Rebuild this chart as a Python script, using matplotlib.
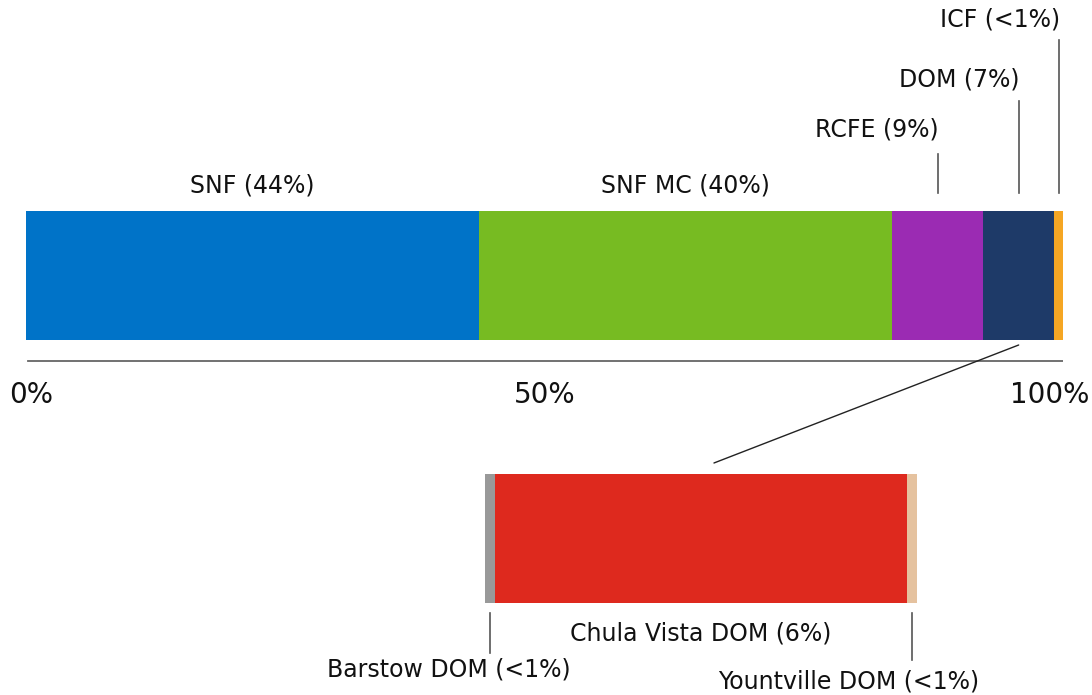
import matplotlib
matplotlib.use("Agg")
import matplotlib.pyplot as plt
from matplotlib.patches import ConnectionPatch

# Share of beds by facility type (percent)
categories = ["SNF", "SNF MC", "RCFE", "DOM", "ICF"]
shares = [43.7, 39.8, 8.8, 6.85, 0.85]
labels = ["SNF (44%)", "SNF MC (40%)", "RCFE (9%)", "DOM (7%)", "ICF (<1%)"]
colors = ["#0073c8", "#77bb22", "#9b2bb3", "#1e3a68", "#f5a623"]

# Breakdown of the DOM segment (percent of total)
dom_sites = ["Barstow DOM", "Chula Vista DOM", "Yountville DOM"]
dom_shares = [0.16, 6.53, 0.16]
dom_labels = ["Barstow DOM (<1%)", "Chula Vista DOM (6%)", "Yountville DOM (<1%)"]
dom_colors = ["#999999", "#de291e", "#e5c29f"]

tick_values = [0, 50, 100]
tick_labels = ["0%", "50%", "100%"]

W, H = 1092, 695
plt.rcParams["font.family"] = ["DejaVu Sans"]
fig = plt.figure(figsize=(W / 100, H / 100), dpi=100)

# main stacked bar; y axis in pixel rows (top = 0)
ax = fig.add_axes([26 / W, 0, 1037 / W, 1])
ax.set_xlim(0, 100)
ax.set_ylim(H, 0)
ax.axis("off")

bar_y, bar_h = 275.5, 129
left = 0
mids = []
for val, col in zip(shares, colors):
    ax.barh(bar_y, val, left=left, height=bar_h, color=col, linewidth=0)
    mids.append(left + val / 2)
    left += val

fs = 17
tc = "#111111"
# labels above the two large segments
for i in (0, 1):
    ax.text(mids[i], 185, labels[i], ha="center", va="center", fontsize=fs, color=tc)
# labels with leader lines for the small segments
for i, (ty, ly) in zip((2, 3, 4), ((130, 154), (80, 101), (20, 40))):
    ax.plot([mids[i], mids[i]], [ly, 193], color="#555555", lw=1.2)
    ax.text(mids[i] + 0.1, ty, labels[i], ha="right", va="center", fontsize=fs, color=tc)

# axis line and tick labels
ax.plot([0.2, 100], [361, 361], color="#666666", lw=1.3)
tick_pos = {0: (-1.6, "left"), 50: (50, "center"), 100: (102.5, "right")}
for v, t in zip(tick_values, tick_labels):
    x, ha = tick_pos[v]
    ax.text(x, 395, t, ha=ha, va="center", fontsize=20, color=tc, clip_on=False)

# breakdown bar
axz = fig.add_axes([485 / W, 0, 432 / W, 1])
axz.set_xlim(0, sum(dom_shares))
axz.set_ylim(H, 0)
axz.axis("off")
zy, zh = 538.5, 129
left = 0
zmids = []
for val, col in zip(dom_shares, dom_colors):
    axz.barh(zy, val, left=left, height=zh, color=col, linewidth=0)
    zmids.append(left + val / 2)
    left += val

axz.plot([zmids[0], zmids[0]], [613, 653], color="#555555", lw=1.2)
axz.plot([zmids[2], zmids[2]], [613, 660], color="#555555", lw=1.2)
axz.text(zmids[1], 633, dom_labels[1], ha="center", va="center", fontsize=fs, color=tc)
axz.text(zmids[0] - 0.65, 670, dom_labels[0], ha="center", va="center", fontsize=fs, color=tc,
         clip_on=False)
axz.text(zmids[2] - 1.0, 682, dom_labels[2], ha="center", va="center", fontsize=fs, color=tc,
         clip_on=False)

# connector from the DOM segment to its breakdown
con = ConnectionPatch(xyA=(mids[3], 345), coordsA=ax.transData,
                      xyB=(sum(dom_shares) * 0.53, 463), coordsB=axz.transData,
                      color="#222222", lw=1.0)
fig.add_artist(con)

fig.savefig("out.png", dpi=100)
